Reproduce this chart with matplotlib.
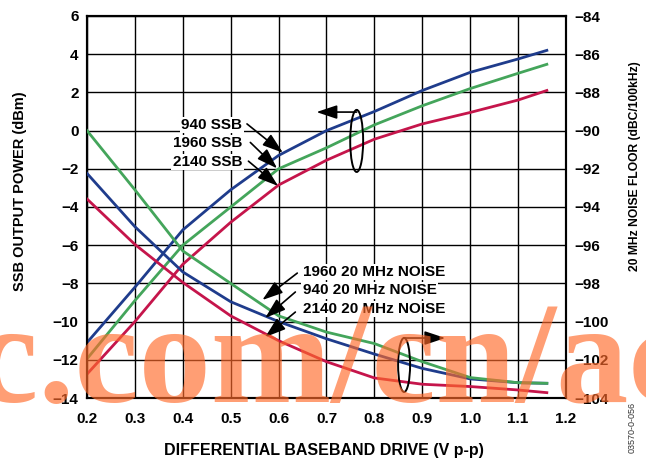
import matplotlib
matplotlib.use("Agg")
import matplotlib.pyplot as plt
from matplotlib.patches import Ellipse

plt.rcParams['font.family'] = ['Liberation Sans', 'DejaVu Sans']
plt.rcParams['font.weight'] = 'bold'

# ---------------- data ----------------
drive = [0.2, 0.3, 0.4, 0.5, 0.6, 0.7, 0.8, 0.9, 1.0, 1.1, 1.16]

ssb_940 = [-11.1, -8.2, -5.2, -3.1, -1.3, 0.0, 1.0, 2.1, 3.05, 3.75, 4.2]
ssb_1960 = [-11.95, -8.9, -6.0, -4.0, -2.0, -0.9, 0.3, 1.3, 2.2, 3.0, 3.47]
ssb_2140 = [-12.75, -10.0, -7.0, -4.8, -2.85, -1.55, -0.45, 0.35, 0.95, 1.6, 2.1]

noise_1960 = [-90.0, -93.1, -96.3, -98.0, -99.7, -100.55, -101.15, -102.1, -102.93, -103.2, -103.23]
noise_940 = [-92.24, -95.03, -97.4, -98.96, -100.0, -100.9, -101.7, -102.45, -103.0, -103.2, -103.23]
noise_2140 = [-93.58, -95.96, -97.95, -99.7, -101.0, -102.1, -102.95, -103.28, -103.4, -103.58, -103.72]

x_ticks = [0.2, 0.3, 0.4, 0.5, 0.6, 0.7, 0.8, 0.9, 1.0, 1.1, 1.2]
x_ticklabels = ['0.2', '0.3', '0.4', '0.5', '0.6', '0.7', '0.8', '0.9', '1.0', '1.1', '1.2']
left_ticks = [-14, -12, -10, -8, -6, -4, -2, 0, 2, 4, 6]
right_ticks = [-104, -102, -100, -98, -96, -94, -92, -90, -88, -86, -84]

ssb_labels = ['940 SSB', '1960 SSB', '2140 SSB']
noise_labels = ['1960 20 MHz NOISE', '940 20 MHz NOISE', '2140 20 MHz NOISE']

BLUE = '#1F3C8C'
GREEN = '#44A55B'
RED = '#C5154B'

# ---------------- figure ----------------
W, H = 646, 462
fig = plt.figure(figsize=(W / 100, H / 100), dpi=100)
ax = fig.add_axes([87 / W, 1 - 398 / H, (566 - 87) / W, (398 - 16) / H])
ax2 = ax.twinx()

ax.set_xlim(0.2, 1.2)
ax.set_ylim(-14, 6)
ax2.set_ylim(-104, -84)

ax.set_xticks(x_ticks)
ax.set_xticklabels(x_ticklabels)
ax.set_yticks(left_ticks)
ax2.set_yticks(right_ticks)

ax.grid(True, color='black', lw=1.0)
ax.set_axisbelow(True)
for a in (ax, ax2):
    for s in a.spines.values():
        s.set_linewidth(1.5)
ax.tick_params(axis='x', length=0, pad=10, labelsize=11)
ax.tick_params(axis='y', length=0, pad=6, labelsize=11)
ax2.tick_params(axis='y', length=0, pad=6, labelsize=11)

lw = 2.0
ax.plot(drive, ssb_940, color=BLUE, lw=lw, zorder=3)
ax.plot(drive, ssb_1960, color=GREEN, lw=lw, zorder=3)
ax.plot(drive, ssb_2140, color=RED, lw=lw, zorder=3)
ax2.plot(drive, noise_940, color=BLUE, lw=lw, zorder=3)
ax2.plot(drive, noise_1960, color=GREEN, lw=lw, zorder=3)
ax2.plot(drive, noise_2140, color=RED, lw=lw, zorder=3)

# ---------------- annotations ----------------
box = dict(facecolor='white', edgecolor='none', pad=1.0)
aprops = dict(arrowstyle='-|>,head_length=0.9,head_width=0.3', color='black',
              lw=1.2, mutation_scale=14, shrinkA=0, shrinkB=0)

ssb_text_y = [0.29, -0.65, -1.64]
ssb_arrows = [((0.534, 0.35), (0.609, -1.16)),
              ((0.541, -0.62), (0.597, -1.98)),
              ((0.537, -1.6), (0.599, -2.90))]
for lab, ty, (s, t) in zip(ssb_labels, ssb_text_y, ssb_arrows):
    ax2.text(0.524, ty - 90, lab, ha='right', va='center', fontsize=11,
             bbox=box, zorder=5)
    ax2.annotate('', xy=(t[0], t[1] - 90), xytext=(s[0], s[1] - 90),
                 arrowprops=aprops, zorder=6)

noise_text_y = [-7.40, -8.36, -9.34]
noise_arrows = [((0.639, -7.46), (0.566, -8.87)),
                ((0.635, -8.45), (0.572, -9.81)),
                ((0.635, -9.50), (0.572, -10.81))]
for lab, ty, (s, t) in zip(noise_labels, noise_text_y, noise_arrows):
    ax2.text(0.650, ty - 90, lab, ha='left', va='center', fontsize=11,
             bbox=box, zorder=5)
    ax2.annotate('', xy=(t[0], t[1] - 90), xytext=(s[0], s[1] - 90),
                 arrowprops=aprops, zorder=6)

# bracket ellipses
ax2.add_patch(Ellipse((0.763, -0.54 - 90), 0.027, 3.25, fill=False,
                      edgecolor='black', lw=1.4, zorder=6))
ax2.annotate('', xy=(0.679, 0.97 - 90), xytext=(0.763, 0.97 - 90),
             arrowprops=aprops, zorder=6)
ax2.add_patch(Ellipse((0.862, -12.27 - 90), 0.025, 2.83, fill=False,
                      edgecolor='black', lw=1.4, zorder=6))
ax2.annotate('', xy=(0.948, -10.86 - 90), xytext=(0.862, -10.86 - 90),
             arrowprops=aprops, zorder=6)

# axis titles
fig.text(324 / W, 1 - 451 / H, 'DIFFERENTIAL BASEBAND DRIVE (V p-p)',
         ha='center', va='center', fontsize=11.5)
fig.text(20 / W, 1 - 191 / H, 'SSB OUTPUT POWER (dBm)', rotation=90,
         ha='center', va='center', fontsize=10.5)
fig.text(635 / W, 1 - 166 / H, '20 MHz NOISE FLOOR (dBC/100kHz)', rotation=90,
         ha='center', va='center', fontsize=8.7)
fig.text(632 / W, 1 - 427 / H, '03570-0-056', rotation=90, ha='center',
         va='center', fontsize=6.5, fontweight='normal', color='#333333')

# watermark
fig.text(-26 / W, 1 - 402 / H, 'c.com/cn/ac', fontsize=104,
         family=['Liberation Serif', 'DejaVu Serif'], fontweight='bold',
         color='#FF6A2A', alpha=0.65, ha='left', va='baseline', zorder=10)

fig.savefig('out.png', dpi=100)
